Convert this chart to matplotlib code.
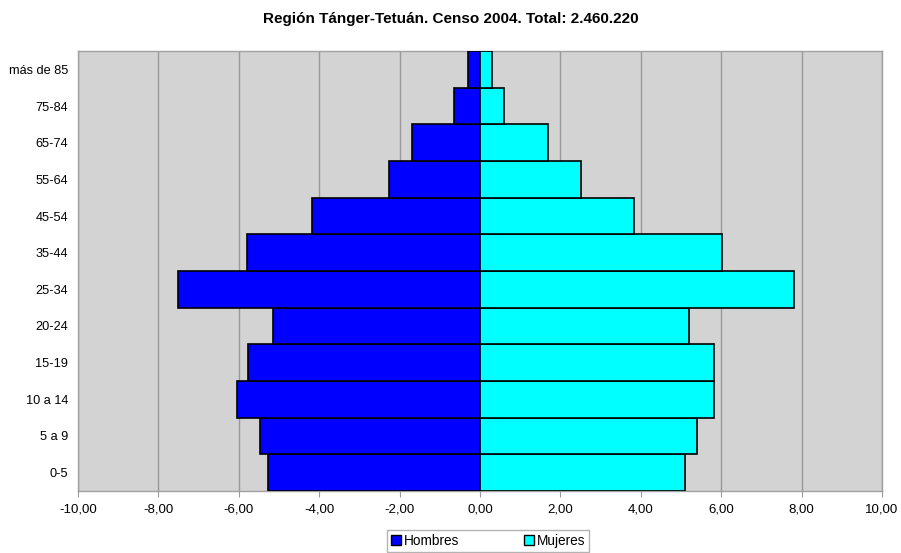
import matplotlib
matplotlib.use('Agg')
from matplotlib import pyplot as plt
from matplotlib.patches import Patch
from matplotlib.ticker import FuncFormatter

# age groups from bottom to top
grupos = ['0-5', '5 a 9', '10 a 14', '15-19', '20-24', '25-34',
          '35-44', '45-54', '55-64', '65-74', '75-84', 'más de 85']
hombres = [-5.27, -5.47, -6.04, -5.77, -5.15, -7.52,
           -5.79, -4.19, -2.27, -1.70, -0.64, -0.29]
mujeres = [5.10, 5.40, 5.81, 5.81, 5.20, 7.82,
           6.02, 3.82, 2.51, 1.70, 0.60, 0.30]
xticks = [-10, -8, -6, -4, -2, 0, 2, 4, 6, 8, 10]

plt.rcParams['font.family'] = ['Liberation Sans', 'DejaVu Sans']

fig = plt.figure(figsize=(9.01, 5.53), dpi=100)
ax = fig.add_axes([78 / 901, 62 / 553, 804 / 901, 440 / 553])
ax.set_facecolor('#d3d3d3')

y = range(len(grupos))
ax.barh(y, hombres, height=1.0, color='#0000ff', edgecolor='black', linewidth=1.2, zorder=3)
ax.barh(y, mujeres, height=1.0, color='#00ffff', edgecolor='black', linewidth=1.2, zorder=3)

ax.set_xlim(-10, 10)
ax.set_ylim(-0.5, len(grupos) - 0.5)
ax.set_xticks(xticks)
ax.xaxis.set_major_formatter(FuncFormatter(lambda v, p: ('%.2f' % v).replace('.', ',')))
ax.set_yticks(list(y))
ax.set_yticklabels(grupos)
ax.tick_params(axis='x', length=4, color='#999999', labelsize=9.5, pad=5)
ax.tick_params(axis='y', length=0, labelsize=9.2, pad=7)
ax.grid(axis='x', color='#999999', linewidth=1.0, zorder=1)

for s in ax.spines.values():
    s.set_color('#a0a0a0')
    s.set_linewidth(1.0)

fig.suptitle('Región Tánger-Tetuán. Censo 2004. Total: 2.460.220',
             x=0.5, y=0.978, fontsize=11, fontweight='bold')

handles = [Patch(facecolor='#0000ff', edgecolor='black', label='Hombres'),
           Patch(facecolor='#00ffff', edgecolor='black', label='Mujeres')]
leg = fig.legend(handles=handles, loc='lower center', bbox_to_anchor=(0.542, 0.002),
                 ncol=2, fontsize=9.8, frameon=True, fancybox=False,
                 handlelength=0.7, handleheight=0.7, handletextpad=0.2,
                 columnspacing=4.8, borderpad=0.3, borderaxespad=0.0)
leg.get_frame().set_edgecolor('#a0a0a0')
leg.get_frame().set_linewidth(1.0)

plt.savefig('out.png', dpi=100)
